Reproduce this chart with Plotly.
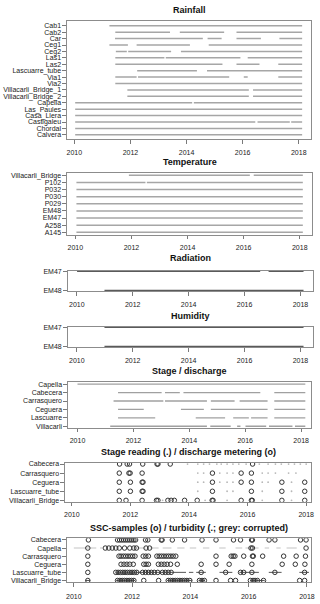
import plotly.graph_objects as go

# ---------------- data ----------------
year_ticks = [2010, 2012, 2014, 2016, 2018]
titles = ["Rainfall", "Temperature", "Radiation", "Humidity", "Stage / discharge",
          "Stage reading (.) / discharge metering (o)",
          "SSC-samples (o) / turbidity (.; grey: corrupted)"]

rain_stations = ["Cab1", "Cab2", "Car", "Ceg1", "Ceg2", "Las1", "Las2", "Lascuarre_tube",
                 "Via1", "Via2", "Villacarli_Bridge_1", "Villacarli_Bridge_2", "Capella",
                 "Las_Paules", "Casa_Llera", "Castigaleu", "Chordal", "Calvera"]
rain_periods = [
    [[2011.25, 2018.12]],
    [[2011.46, 2013.41], [2013.76, 2015.34], [2015.78, 2018.12]],
    [[2011.45, 2014.58], [2014.75, 2015.25], [2015.78, 2016.65], [2017.31, 2018.12]],
    [[2011.25, 2011.91], [2012.22, 2014.12], [2014.79, 2018.12]],
    [[2011.48, 2011.87], [2011.92, 2013.45], [2013.80, 2018.12]],
    [[2011.46, 2013.21], [2013.26, 2015.92], [2016.18, 2018.12]],
    [[2011.46, 2015.28], [2015.78, 2016.60], [2017.27, 2018.12]],
    [[2012.24, 2014.37], [2014.73, 2018.12]],
    [[2011.46, 2012.22], [2012.27, 2015.52], [2016.04, 2016.18], [2017.27, 2018.12]],
    [[2011.46, 2018.12]],
    [[2011.89, 2016.22], [2016.37, 2018.12]],
    [[2011.89, 2016.22], [2016.37, 2018.12]],
    [[2010.03, 2014.20], [2014.26, 2018.12]],
    [[2010.03, 2018.12]],
    [[2010.03, 2018.12]],
    [[2010.03, 2016.45], [2016.53, 2017.68], [2017.73, 2018.12]],
    [[2010.03, 2018.12]],
    [[2010.03, 2018.12]],
]

temp_stations = ["Villacarli_Bridge", "P102", "P032", "P030", "P029", "EM48", "EM47", "A258", "A145"]
temp_periods = [
    [[2011.91, 2016.22], [2016.36, 2018.11]],
    [[2010.04, 2012.50], [2012.55, 2018.11]],
    [[2010.04, 2018.11]],
    [[2010.04, 2018.11]],
    [[2010.04, 2018.11]],
    [[2010.04, 2018.11]],
    [[2010.04, 2018.11]],
    [[2010.04, 2018.11]],
    [[2010.04, 2018.11]],
]

rad_stations = ["EM47", "EM48"]
rad_periods = [
    [[2010.01, 2016.56], [2016.86, 2018.11]],
    [[2010.99, 2018.11]],
]

hum_stations = ["EM47", "EM48"]
hum_periods = [
    [[2010.99, 2018.11]],
    [[2010.99, 2018.11]],
]

stage_stations = ["Capella", "Cabecera", "Carrasquero", "Ceguera", "Lascuarre", "Villacarli"]
stage_periods = [
    [[2010.00, 2018.15]],
    [[2011.45, 2013.01], [2013.13, 2013.66], [2013.79, 2016.54], [2017.04, 2018.15]],
    [[2011.29, 2013.07], [2013.13, 2014.63], [2014.77, 2015.62], [2015.80, 2016.80], [2017.04, 2018.15]],
    [[2011.45, 2012.37], [2013.70, 2014.52], [2014.77, 2016.80], [2017.04, 2018.15]],
    [[2011.45, 2012.78], [2014.23, 2015.28], [2015.57, 2016.13], [2016.21, 2016.80], [2017.04, 2018.15]],
    [[2011.17, 2014.63], [2014.75, 2015.48], [2015.71, 2015.83], [2016.01, 2016.75],
     [2016.85, 2017.69], [2017.78, 2018.15]],
]

reading_stations = ["Cabecera", "Carrasquero", "Ceguera", "Lascuarre_tube", "Villacarli_Bridge"]
reading_dots = [
    [2013.95, 2014.30, 2014.50, 2014.70, 2014.95, 2015.10, 2015.30, 2015.50, 2015.70, 2015.95,
     2016.40, 2016.70, 2016.95, 2017.15, 2017.40, 2017.60, 2017.80, 2018.00],
    [2014.30, 2014.50, 2015.05, 2015.30, 2015.50, 2016.50, 2016.70, 2016.95, 2017.40, 2017.65],
    [2014.30, 2014.50, 2015.05, 2015.30, 2015.50, 2016.50, 2016.70, 2017.50],
    [2014.30, 2015.30, 2015.50, 2016.50, 2017.50],
    [2013.10, 2014.55, 2015.30, 2016.50, 2017.50],
]
metering_dates = [
    [2011.63, 2011.89, 2011.97, 2012.42, 2012.91, 2012.94, 2013.36, 2016.17],
    [2011.62, 2011.95, 2011.99, 2012.40, 2014.80, 2015.78, 2016.13],
    [2011.62, 2012.00, 2012.40, 2012.43, 2014.80, 2015.78, 2016.13, 2017.17, 2017.95],
    [2011.62, 2012.00, 2012.40, 2012.43, 2014.80, 2016.13, 2017.17, 2017.95],
    [2011.62, 2011.85, 2012.40, 2012.89, 2012.94, 2013.28, 2013.39, 2013.50, 2013.85, 2014.28,
     2014.79, 2014.82, 2015.78, 2016.13, 2016.16, 2017.17, 2017.95],
]

ssc_stations = ["Cabecera", "Capella", "Carrasquero", "Ceguera", "Lascuarre_tube", "Villacarli_Bridge"]
ssc_samples = [
    [2010.50, 2011.50, 2011.57, 2011.64, 2011.71, 2011.78, 2011.85, 2011.92, 2011.99, 2012.06,
     2012.12, 2012.46, 2012.54, 2013.00, 2013.03, 2013.38, 2013.80, 2014.40, 2014.88, 2015.48,
     2015.72, 2016.10, 2016.13, 2016.70, 2016.90, 2017.78, 2017.97],
    [2010.48, 2011.08, 2011.20, 2011.32, 2011.44, 2011.56, 2011.74, 2011.92, 2012.06, 2012.15,
     2012.48, 2012.60, 2016.08, 2016.13, 2017.97],
    [2010.48, 2011.55, 2011.62, 2011.70, 2011.78, 2011.86, 2011.94, 2012.02, 2012.10, 2012.38,
     2012.47, 2012.56, 2012.85, 2012.93, 2013.01, 2013.09, 2013.17, 2013.25, 2013.33, 2013.41,
     2013.50, 2014.88, 2015.40, 2015.47, 2015.53, 2015.83, 2016.13, 2016.16, 2016.48, 2017.20,
     2017.63, 2017.95],
    [2010.48, 2011.62, 2011.72, 2011.82, 2011.92, 2012.04, 2012.40, 2012.48, 2012.56, 2012.90,
     2013.00, 2013.10, 2013.20, 2013.32, 2013.55, 2014.37, 2014.88, 2015.33, 2016.11, 2017.15,
     2017.60, 2017.93],
    [2010.48, 2011.44, 2011.52, 2011.60, 2011.68, 2011.76, 2011.84, 2011.92, 2012.00, 2012.08,
     2012.16, 2012.36, 2012.46, 2012.56, 2012.66, 2012.76, 2012.88, 2013.04, 2013.14, 2013.24,
     2013.34, 2014.37, 2015.21, 2015.72, 2015.83, 2016.11, 2016.90, 2017.92],
    [2010.48, 2011.50, 2011.58, 2011.66, 2011.74, 2011.82, 2011.90, 2011.98, 2012.06, 2012.40,
     2012.91, 2013.24, 2013.32, 2013.40, 2013.48, 2013.56, 2013.64, 2013.72, 2013.80, 2013.88,
     2013.98, 2014.31, 2014.40, 2014.48, 2014.88, 2015.38, 2015.55, 2016.06, 2016.15, 2016.22,
     2016.30, 2016.51, 2017.75, 2017.92],
]
turbidity_periods = [
    [],
    [],
    [],
    [],
    [[2011.44, 2013.85], [2013.95, 2014.10], [2014.20, 2014.53], [2015.00, 2015.44],
     [2015.68, 2016.35], [2016.69, 2017.13], [2017.74, 2018.07]],
    [[2010.40, 2010.56], [2011.45, 2012.10], [2013.20, 2014.05], [2014.28, 2014.50],
     [2016.05, 2016.55]],
]
corrupt_periods = [
    [],
    [[2010.00, 2010.77], [2010.90, 2010.97], [2012.17, 2012.46], [2012.62, 2012.91],
     [2013.05, 2013.35], [2013.55, 2013.80], [2013.98, 2014.20], [2014.43, 2014.65],
     [2014.99, 2015.21], [2015.55, 2015.78], [2015.89, 2016.34], [2016.55, 2016.70],
     [2016.95, 2017.10], [2017.30, 2017.65]],
    [],
    [],
    [],
    [],
]

# ---------------- layout (pixels) ----------------
W, H = 320, 604
# left, right, top, bottom of plot box; x range; title centre y; tick label standoff
boxes = [
    (67.0, 315.0, 18.6, 137.6, 2009.737, 2018.439, 7.5, 3),
    (67.0, 316.0, 171.7, 233.9, 2009.702, 2018.439, 161.0, 3),
    (67.7, 316.7, 270.2, 291.1, 2009.673, 2018.440, 258.0, 3),
    (67.7, 316.7, 326.9, 347.5, 2009.673, 2018.440, 316.0, 3),
    (68.0, 315.0, 383.3, 429.2, 2009.658, 2018.356, 372.0, 2),
    (65.0, 315.0, 464.2, 503.8, 2009.767, 2018.167, 454.0, 2),
    (67.0, 315.0, 540.7, 584.9, 2009.764, 2018.142, 530.0, 4),
]
station_lists = [rain_stations, temp_stations, rad_stations, hum_stations,
                 stage_stations, reading_stations, ssc_stations]

FONT = "Liberation Sans, Arial, Helvetica, sans-serif"


def seg_xy(periods_list):
    n = len(periods_list)
    xs, ys = [], []
    for i, periods in enumerate(periods_list):
        for a, b in periods:
            xs += [a, b, None]
            ys += [n - i, n - i, None]
    return xs, ys


def pts_xy(dates_list):
    n = len(dates_list)
    xs, ys = [], []
    for i, dates in enumerate(dates_list):
        xs += list(dates)
        ys += [n - i] * len(dates)
    return xs, ys


fig = go.Figure()


def ax_name(k):
    return "" if k == 0 else str(k + 1)


def add_lines(k, periods, color, width):
    xs, ys = seg_xy(periods)
    a = ax_name(k)
    fig.add_trace(go.Scatter(x=xs, y=ys, mode="lines", line=dict(color=color, width=width),
                             xaxis="x" + a, yaxis="y" + a, hoverinfo="skip", showlegend=False))


def add_points(k, dates, symbol, size, color, lw=1.0):
    xs, ys = pts_xy(dates)
    a = ax_name(k)
    fig.add_trace(go.Scatter(x=xs, y=ys, mode="markers",
                             marker=dict(symbol=symbol, size=size, color=color,
                                         line=dict(color=color, width=lw)),
                             xaxis="x" + a, yaxis="y" + a, hoverinfo="skip", showlegend=False))


add_lines(0, rain_periods, "#a6a6a6", 1.5)
add_lines(1, temp_periods, "#a6a6a6", 1.5)
add_lines(2, rad_periods, "#5a5a5a", 1.3)
add_lines(3, hum_periods, "#5a5a5a", 1.3)
add_lines(4, stage_periods, "#a0a0a0", 1.4)
add_points(5, reading_dots, "circle", 1.8, "#b8b8b8", 0)
add_points(5, metering_dates, "circle-open", 4.5, "#333333", 1.0)
add_lines(6, corrupt_periods, "#c4c4c4", 1.1)
add_lines(6, turbidity_periods, "#555555", 1.0)
add_points(6, ssc_samples, "circle-open", 4.5, "#333333", 1.0)

annotations = []
for k, (l, r, t, b, x0, x1, ty, so) in enumerate(boxes):
    a = ax_name(k)
    stations = station_lists[k]
    n = len(stations)
    pad = 0.04 * (n - 1)
    fig.layout["xaxis" + a] = dict(
        domain=[l / W, r / W], range=[x0, x1], anchor="y" + a,
        tickmode="array", tickvals=year_ticks, ticktext=[str(v) for v in year_ticks],
        ticks="outside", ticklen=3.5, tickwidth=1, tickcolor="#7a7a7a",
        ticklabelstandoff=so,
        showline=True, mirror=True, linecolor="#8c8c8c", linewidth=1,
        showgrid=False, zeroline=False, fixedrange=True,
        tickfont=dict(family=FONT, size=7, color="#222222"))
    fig.layout["yaxis" + a] = dict(
        domain=[1 - b / H, 1 - t / H], range=[1 - pad, n + pad], anchor="x" + a,
        tickmode="array", tickvals=[n - i for i in range(n)], ticktext=stations,
        ticks="outside", ticklen=3.5, tickwidth=1, tickcolor="#7a7a7a",
        showline=True, mirror=True, linecolor="#8c8c8c", linewidth=1,
        showgrid=False, zeroline=False, fixedrange=True,
        tickfont=dict(family=FONT, size=7, color="#222222"))
    annotations.append(dict(
        x=(l + r) / 2 / W, y=1 - ty / H, xref="paper", yref="paper",
        text="<b>" + titles[k] + "</b>", showarrow=False,
        xanchor="center", yanchor="middle",
        font=dict(family=FONT, size=9, color="#111111")))

fig.update_layout(
    width=W, height=H, margin=dict(l=0, r=0, t=0, b=0),
    paper_bgcolor="white", plot_bgcolor="white",
    annotations=annotations, showlegend=False)

fig.write_html("out.html", config={"displayModeBar": False},
               post_script="document.body.style.margin='0px';"
                           "document.body.style.overflow='hidden';")
